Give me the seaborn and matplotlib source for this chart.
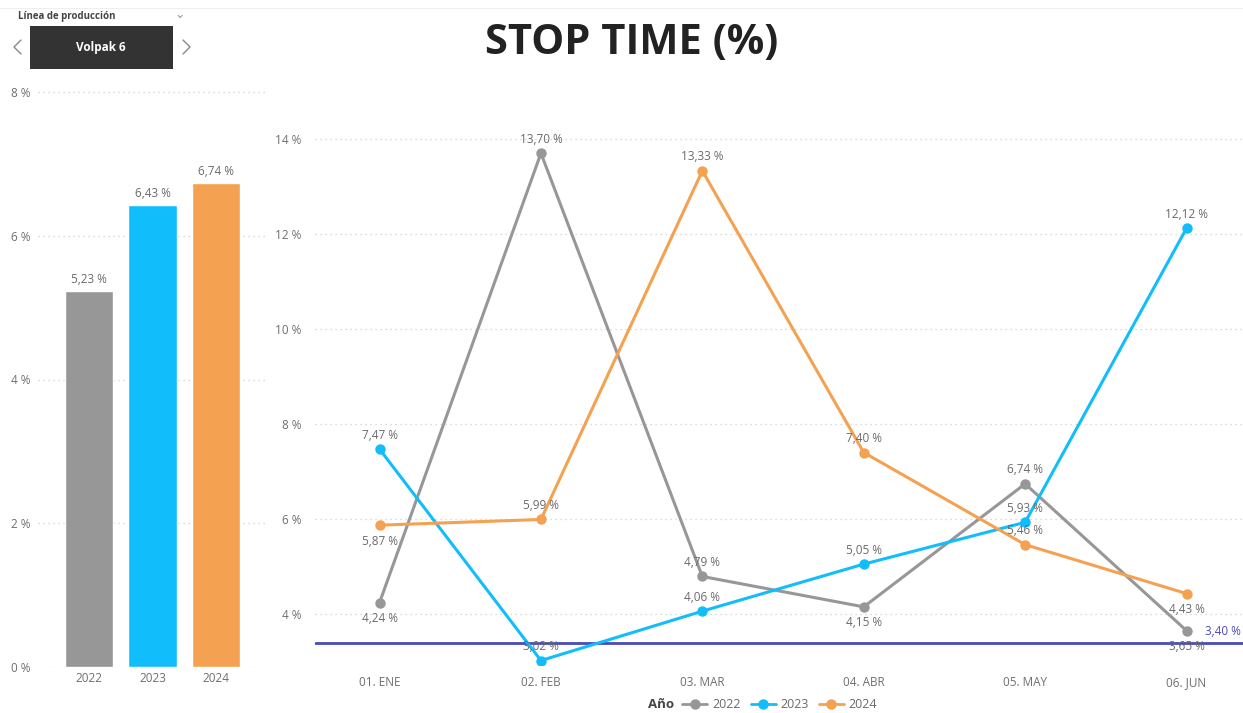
import matplotlib
matplotlib.use("Agg")
import matplotlib.pyplot as plt
import seaborn as sns
import pandas as pd
from matplotlib.lines import Line2D

# ---------------- data ----------------
years = ["2022", "2023", "2024"]
year_totals = [5.23, 6.43, 6.74]
months = ["01. ENE", "02. FEB", "03. MAR", "04. ABR", "05. MAY", "06. JUN"]
stop_2022 = [4.24, 13.70, 4.79, 4.15, 6.74, 3.65]
stop_2023 = [7.47, 3.02, 4.06, 5.05, 5.93, 12.12]
stop_2024 = [5.87, 5.99, 13.33, 7.40, 5.46, 4.43]
target = 3.40
bar_ticks = [0, 2, 4, 6, 8]
line_ticks = [4, 6, 8, 10, 12, 14]
# label placement: +1 above, -1 below
pos_2022 = [-1, 1, 1, -1, 1, -1]
pos_2023 = [1, 1, 1, 1, 1, 1]
pos_2024 = [-1, 1, 1, 1, 1, -1]

colors = {"2022": "#979797", "2023": "#12BDFB", "2024": "#F4A251"}
ref_color = "#4B4BB5"
tick_color = "#6E6E6E"
label_color = "#6A6A6A"

sns.set_theme(style="white")
plt.rcParams["font.family"] = ["Open Sans", "DejaVu Sans"]

def pct(v, dec=2):
    return (f"{v:.{dec}f}").replace(".", ",") + " %"

W, H = 1243, 713
fig = plt.figure(figsize=(W / 100, H / 100), dpi=100)
fig.patch.set_facecolor("white")

def fx(px):
    return px / W

def fy(py):
    return 1 - py / H

# ---------------- left bar chart ----------------
axb = fig.add_axes([fx(38), fy(667), fx(265 - 38), fy(85) - fy(667)])
df_bar = pd.DataFrame({"year": years, "value": year_totals})
sns.barplot(data=df_bar, x="year", y="value", hue="year", palette=colors,
            width=0.76, ax=axb, legend=False, saturation=1)
axb.set_ylim(0, 8 * (667 - 85) / (667 - 92))
axb.set_xlim(-0.80, 2.77)
axb.set_yticks(bar_ticks)
axb.set_yticklabels([f"{t} %" for t in bar_ticks])
axb.yaxis.grid(True, linestyle=(0, (1, 3)), color="#CFCFCF", linewidth=0.9)
axb.set_axisbelow(True)
for s in axb.spines.values():
    s.set_visible(False)
axb.set_xlabel("")
axb.set_ylabel("")
axb.tick_params(axis="both", colors=tick_color, labelsize=8.5, length=0)
axb.tick_params(axis="y", pad=-2)
for lab in axb.get_yticklabels():
    lab.set_horizontalalignment("left")
    lab.set_x(-0.13)
for i, v in enumerate(year_totals):
    axb.annotate(pct(v), (i, v), xytext=(0, 5), textcoords="offset pixels",
                 ha="center", va="bottom", fontsize=8.5, color=label_color)

# ---------------- right line chart ----------------
axl = fig.add_axes([fx(315), fy(665), fx(1243 - 315), fy(100) - fy(665)])
df_line = pd.DataFrame({
    "mes": months * 3,
    "valor": stop_2022 + stop_2023 + stop_2024,
    "año": ["2022"] * 6 + ["2023"] * 6 + ["2024"] * 6,
})
sns.lineplot(data=df_line, x="mes", y="valor", hue="año", palette=colors,
             marker="o", markersize=7.5, markeredgewidth=0, linewidth=2.2,
             ax=axl, legend=False, sort=False)
axl.set_ylim(4 - (665 - 614) / 47.5, 14 + (139 - 100) / 47.5)
axl.set_xlim(-0.40, 5.35)
axl.set_yticks(line_ticks)
axl.set_yticklabels([f"{t} %" for t in line_ticks])
axl.yaxis.grid(True, linestyle=(0, (1, 3)), color="#CFCFCF", linewidth=0.9)
axl.set_axisbelow(True)
for s in axl.spines.values():
    s.set_visible(False)
axl.set_xlabel("")
axl.set_ylabel("")
axl.tick_params(axis="both", colors=tick_color, labelsize=8.5, length=0)
axl.tick_params(axis="x", pad=8)
axl.tick_params(axis="y", pad=10)

axl.axhline(target, color=ref_color, linewidth=2, zorder=1)
axl.annotate(pct(target), (5.35, target), xytext=(-2, 11), textcoords="offset pixels",
             ha="right", va="center", fontsize=8.5, color=ref_color, annotation_clip=False)

for vals, poss in [(stop_2022, pos_2022), (stop_2023, pos_2023), (stop_2024, pos_2024)]:
    for i, (v, p) in enumerate(zip(vals, poss)):
        off = 14 if p > 0 else -16
        axl.annotate(pct(v), (i, v), xytext=(0, off), textcoords="offset pixels",
                     ha="center", va="center", fontsize=8.5, color=label_color, zorder=5)

# ---------------- legend ----------------
fig.text(fx(648), fy(705), "Año", fontsize=9.5, fontweight="bold", color="#444444",
         ha="left", va="center")
handles = [Line2D([0], [0], color=colors[y], marker="o", markersize=6.5, linewidth=2)
           for y in years]
leg = fig.legend(handles, years, loc="center left", bbox_to_anchor=(fx(682), fy(705)),
                 ncol=3, frameon=False, fontsize=9, handlelength=2.0,
                 handletextpad=0.4, columnspacing=0.8, borderpad=0, borderaxespad=0)
for t in leg.get_texts():
    t.set_color("#6A6A6A")

# ---------------- title ----------------
fig.text(fx(632), fy(43), "STOP TIME (%)", fontsize=30, fontweight="bold",
         color="#222222", ha="center", va="center")

# ---------------- slicer ----------------
fig.add_artist(Line2D([fx(0), fx(1243)], [fy(8), fy(8)], color="#EEEEEE", linewidth=0.8))
fig.text(fx(18), fy(16), "Línea de producción", fontsize=7, fontweight="bold",
         color="#444444", ha="left", va="center")
fig.text(fx(180), fy(15), "⌄", fontsize=9, color="#999999", ha="center", va="center")
box = plt.Rectangle((fx(30), fy(69)), fx(173 - 30), fy(26) - fy(69),
                    transform=fig.transFigure, facecolor="#333333", edgecolor="none")
fig.add_artist(box)
fig.text(fx(101), fy(47), "Volpak 6", fontsize=8.5, fontweight="bold", color="white",
         ha="center", va="center")
fig.add_artist(Line2D([fx(21), fx(14), fx(21)], [fy(40), fy(47), fy(54)],
                      color="#888888", linewidth=1))
fig.add_artist(Line2D([fx(183), fx(190), fx(183)], [fy(40), fy(47), fy(54)],
                      color="#888888", linewidth=1))

fig.savefig("out.png", dpi=100, facecolor="white")
